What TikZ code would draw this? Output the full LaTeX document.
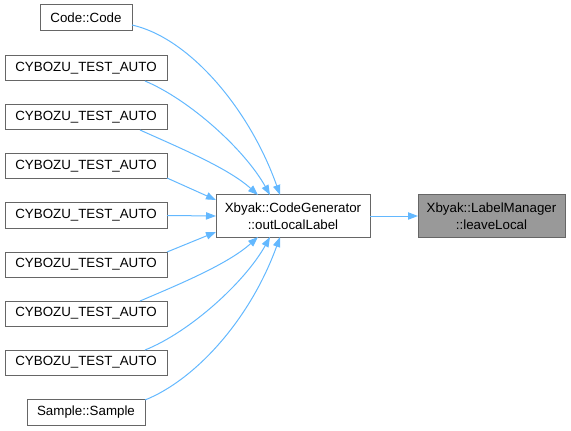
\documentclass[tikz,border=0pt]{standalone}
\usepackage{fontspec}
\setmainfont{Liberation Sans}
\usetikzlibrary{arrows.meta,calc}
\definecolor{edgeblue}{HTML}{63B8FF}
\definecolor{boxgray}{HTML}{666666}
\definecolor{hlfill}{HTML}{999999}
\tikzset{
  box/.style={draw=boxgray, line width=0.75pt, fill=white, inner sep=0pt, outer sep=0pt,
    font=\fontsize{10}{13}\selectfont, align=center, anchor=center},
  hlbox/.style={box, fill=hlfill},
  edge/.style={draw=edgeblue, line width=0.75pt, -{Triangle[length=7.5pt,width=5.5pt]}}
}
\begin{document}
\begin{tikzpicture}[x=0.75pt,y=-0.75pt]
\useasboundingbox (0,0) rectangle (571,431);
\node[box, minimum width=69pt, minimum height=19.5pt] (code) at (86,18) {Code::Code};
\node[box, minimum width=121.5pt, minimum height=18.75pt] (c1) at (86,68.5) {CYBOZU\_TEST\_AUTO};
\node[box, minimum width=121.5pt, minimum height=18.75pt] (c2) at (86,117.5) {CYBOZU\_TEST\_AUTO};
\node[box, minimum width=121.5pt, minimum height=18.75pt] (c3) at (86,166.5) {CYBOZU\_TEST\_AUTO};
\node[box, minimum width=121.5pt, minimum height=18.75pt] (c4) at (86,215.5) {CYBOZU\_TEST\_AUTO};
\node[box, minimum width=121.5pt, minimum height=18.75pt] (c5) at (86,264.5) {CYBOZU\_TEST\_AUTO};
\node[box, minimum width=121.5pt, minimum height=18.75pt] (c6) at (86,313.5) {CYBOZU\_TEST\_AUTO};
\node[box, minimum width=121.5pt, minimum height=18.75pt] (c7) at (86,362.5) {CYBOZU\_TEST\_AUTO};
\node[box, minimum width=88.5pt, minimum height=19.5pt] (sample) at (86,412) {Sample::Sample};
\node[box, minimum width=115.5pt, minimum height=31.5pt] (cg) at (293,216) {Xbyak::CodeGenerator\\::outLocalLabel};
\node[hlbox, minimum width=110.25pt, minimum height=31.5pt] (lm) at (491.5,216) {Xbyak::LabelManager\\::leaveLocal};

% edges into cg
\draw[edge] ($(code.south east)+(0,-6)$) .. controls (190,38) and (250,110) .. ($(cg.north west)+(64,0)$);
\draw[edge] ($(c1.south east)+(-22,0)$) .. controls (190,100) and (245,150) .. ($(cg.north west)+(54,0)$);
\draw[edge] ($(c2.south east)+(-27,0)$) .. controls (180,148) and (228,168) .. ($(cg.north west)+(42,0)$);
\draw[edge] ($(c3.south east)+(0,-1)$) -- ($(cg.west)+(0,-16)$);
\draw[edge] (c4.east) -- (cg.west);
\draw[edge] ($(c5.north east)+(0,0)$) -- ($(cg.west)+(0,16)$);
\draw[edge] ($(c6.north east)+(-27,0)$) .. controls (180,284) and (228,264) .. ($(cg.south west)+(42,0)$);
\draw[edge] ($(c7.north east)+(-22,0)$) .. controls (190,332) and (245,282) .. ($(cg.south west)+(54,0)$);
\draw[edge] ($(sample.north east)+(0,1)$) .. controls (195,380) and (250,320) .. ($(cg.south west)+(64,0)$);
% cg -> lm
\draw[edge] (cg.east) -- (lm.west);
\end{tikzpicture}
\end{document}
